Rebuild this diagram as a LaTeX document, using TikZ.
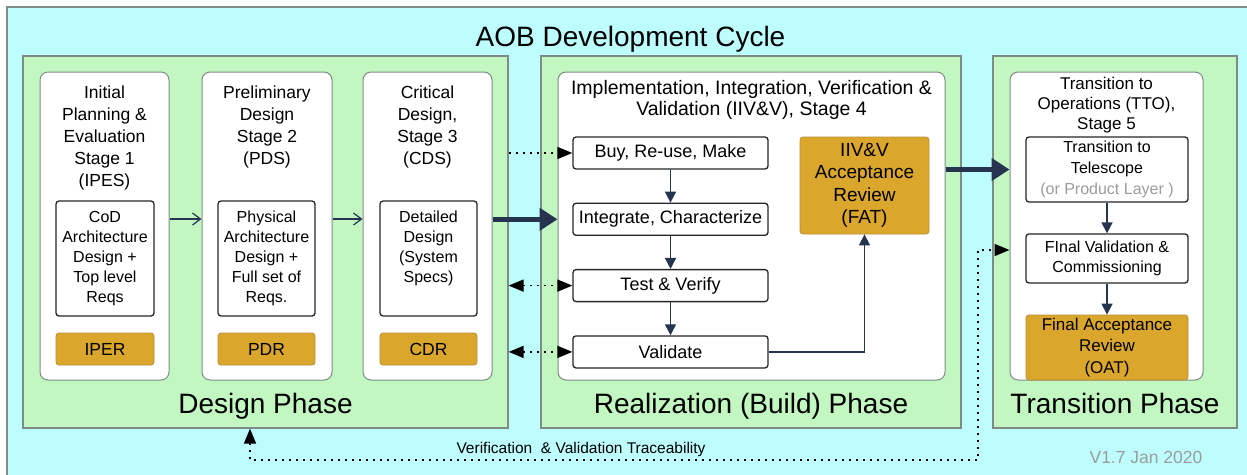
\documentclass[tikz,border=0pt]{standalone}
\usepackage{fontspec}
\setmainfont{Liberation Sans}
\usetikzlibrary{positioning}
\usetikzlibrary{arrows.meta}

\definecolor{bgcyan}{HTML}{BDFDFD}
\definecolor{phasegreen}{HTML}{C2F7C2}
\definecolor{framegray}{HTML}{7F8C86}
\definecolor{reviewgold}{HTML}{DAA62B}
\definecolor{goldedge}{HTML}{B8923A}
\definecolor{flownavy}{HTML}{26344F}
\definecolor{notegray}{HTML}{9C9C9C}

\begin{document}
\begin{tikzpicture}[x=1pt, y=-1pt,
		phase/.style={draw=framegray, line width=1.2pt, fill=phasegreen, rectangle, inner sep=0pt, minimum height=372pt},
		stagebox/.style={draw=framegray, line width=1pt, fill=white, rounded corners=8pt, inner sep=0pt, minimum height=308pt},
		stagetitle/.style={align=center, inner sep=0pt, font=\fontsize{17.5}{22}\selectfont},
		specbox/.style={draw=black!85, line width=1.3pt, fill=white, rounded corners=3pt, inner sep=0pt, align=center, font=\fontsize{16}{20}\selectfont},
		stepbox/.style={draw=black!85, line width=1.3pt, fill=white, rounded corners=3pt, inner sep=0pt, align=center, minimum width=195pt, minimum height=32pt, font=\fontsize{18}{21}\selectfont},
		review/.style={draw=goldedge, line width=0.8pt, fill=reviewgold, rounded corners=3pt, inner sep=0pt, align=center, font=\fontsize{17.5}{22}\selectfont},
		phaselabel/.style={anchor=base, inner sep=0pt, font=\fontsize{28}{32}\selectfont},
		stageflow/.style={-{Straight Barb[length=8pt,width=12pt]}, draw=flownavy, line width=1.2pt},
		flow/.style={-{Triangle[length=11pt,width=11pt]}, draw=flownavy, line width=1.5pt},
		bigflow/.style={-{Triangle[length=18pt,width=22pt]}, draw=flownavy, line width=5pt},
		trace/.style={dash pattern=on 2pt off 5pt, line width=1.6pt, -{Triangle[length=15pt,width=12pt]}},
		tracetwo/.style={dash pattern=on 2pt off 5pt, line width=1.6pt, {Triangle[length=15pt,width=12pt]}-{Triangle[length=15pt,width=12pt]}}
		]
		\useasboundingbox (0,0) rectangle (1247,474);
		\clip (0,0) rectangle (1247,474);
		\fill[white] (0,0) rectangle (1247,474);
		\draw[fill=bgcyan, draw=framegray, line width=2pt] (7,7) rectangle (1270,500);
		
		% Title
		\node[anchor=base, inner sep=0pt, font=\fontsize{28}{32}\selectfont] (title) at (630.5,46) {AOB Development Cycle};
		
		% Phases
		\node[phase, minimum width=485pt] (design) at (265.5,242) {};
		\node[phase, minimum width=420pt] (realize) at (751,242) {};
		\node[phase, minimum width=244pt] (transit) at (1115,242) {};
		
		\node[phaselabel] at ([yshift=15pt]design.south) {Design Phase};
		\node[phaselabel] at ([yshift=15pt]realize.south) {Realization (Build) Phase};
		\node[phaselabel] at ([yshift=15pt]transit.south) {Transition Phase};
		
		% Design stages
		\node[stagebox, minimum width=129pt] (s1) at (104.5,226) {};
		\node[stagebox, minimum width=130pt] (s2) at (267,226) {};
		\node[stagebox, minimum width=129pt] (s3) at (427.5,226) {};
		
		\node[stagetitle, below=14pt of s1.north] (s1title) {Initial\\Planning \&\\Evaluation\\Stage 1\\(IPES)};
		\node[stagetitle, below=14pt of s2.north] (s2title) {Preliminary\\Design\\Stage 2\\(PDS)};
		\node[stagetitle, below=14pt of s3.north] (s3title) {Critical\\Design,\\Stage 3\\(CDS)};
		
		\node[specbox, minimum width=98pt, minimum height=115pt] (cod) at (105,258.5) {CoD\\Architecture\\Design +\\Top level\\Reqs};
		\node[specbox, minimum width=97pt, minimum height=115pt] (phys) at (266.5,258.5) {Physical\\Architecture\\Design +\\Full set of\\Reqs.};
		\node[specbox, minimum width=97pt, minimum height=115pt] (detail) at (428.5,258.5) {Detailed\\Design\\(System\\Specs)\\\vphantom{Ag}};
		
		\node[review, minimum width=98pt, minimum height=32pt, below=16pt of cod] (iper) {IPER};
		\node[review, minimum width=97pt, minimum height=32pt, below=16pt of phys] (pdr) {PDR};
		\node[review, minimum width=97pt, minimum height=32pt, below=16pt of detail] (cdr) {CDR};
		
		% Realization stage
		\node[stagebox, minimum width=387pt] (realw) at (751.5,226) {};
		\node[stagetitle, below=9pt of realw.north, font=\fontsize{19.5}{20.5}\selectfont] (s4title) {Implementation, Integration, Verification \&\\Validation (IIV\&V), Stage 4};
		
		\node[stepbox] (buy) at (670.5,153) {Buy, Re-use, Make};
		\node[stepbox, below=33pt of buy] (integ) {Integrate, Characterize};
		\node[stepbox, below=33pt of integ] (test) {Test \& Verify};
		\node[stepbox, below=33pt of test] (valid) {Validate};
		
		\node[review, minimum width=129pt, minimum height=97pt, font=\fontsize{19}{22.5}\selectfont] (fat) at (864.5,185.5) {IIV\&V\\Acceptance\\Review\\(FAT)};
		
		% Transition stage
		\node[stagebox, minimum width=193pt] (ttow) at (1106.5,226) {};
		\node[stagetitle, below=5pt of ttow.north, font=\fontsize{17}{20}\selectfont] (s5title) {Transition to\\Operations (TTO),\\Stage 5};
		
		\node[specbox, minimum width=162pt, minimum height=65pt, font=\fontsize{16}{21}\selectfont] (tele) at (1107,169.5) {Transition to\\Telescope\\\textcolor{notegray}{(or Product Layer )}};
		\node[specbox, minimum width=162pt, minimum height=49pt] (finval) at (1107,258.5) {FInal Validation \&\\Commissioning};
		\node[review, minimum width=162pt, minimum height=65pt, font=\fontsize{17}{21.5}\selectfont] (oat) at (1107,347.5) {Final Acceptance\\Review\\(OAT)};
		
		% Arrows
		\draw[stageflow] ([yshift=7pt]s1.east) -- ([yshift=7pt]s2.west);
		\draw[stageflow] ([yshift=7pt]s2.east) -- ([yshift=7pt]s3.west);
		\draw[bigflow] (s3.east |- integ) -- (realw.west |- integ);
		\draw[bigflow] (realw.east |- tele) -- (ttow.west |- tele);
		
		\draw[flow] (buy) -- (integ);
		\draw[flow] (integ) -- (test);
		\draw[flow] (test) -- (valid);
		\draw[flow] (valid.east) -| (fat.south);
		\draw[flow] (tele) -- (finval);
		\draw[flow] (finval) -- (oat);
		
		\draw[trace] (design.east |- buy) -- (buy.west);
		\draw[tracetwo] (design.east |- test) -- (test.west);
		\draw[tracetwo] (design.east |- valid) -- (valid.west);
		
		% Traceability loop
		\coordinate (traceL) at (250,460);
		\coordinate (traceR) at (978,460);
		\draw[tracetwo] ([xshift=-15.5pt]design.south) -- (traceL) -- (traceR) |- ([yshift=-24pt]ttow.west);
		\node[anchor=base, inner sep=0pt, font=\fontsize{15.5}{18}\selectfont] (tracelabel) at (581,453) {Verification \ \& Validation Traceability};
		\node[anchor=base, inner sep=0pt, text=notegray, font=\fontsize{17.5}{20}\selectfont] (version) at (1146,463) {V1.7 Jan 2020};
	\end{tikzpicture}
\end{document}
